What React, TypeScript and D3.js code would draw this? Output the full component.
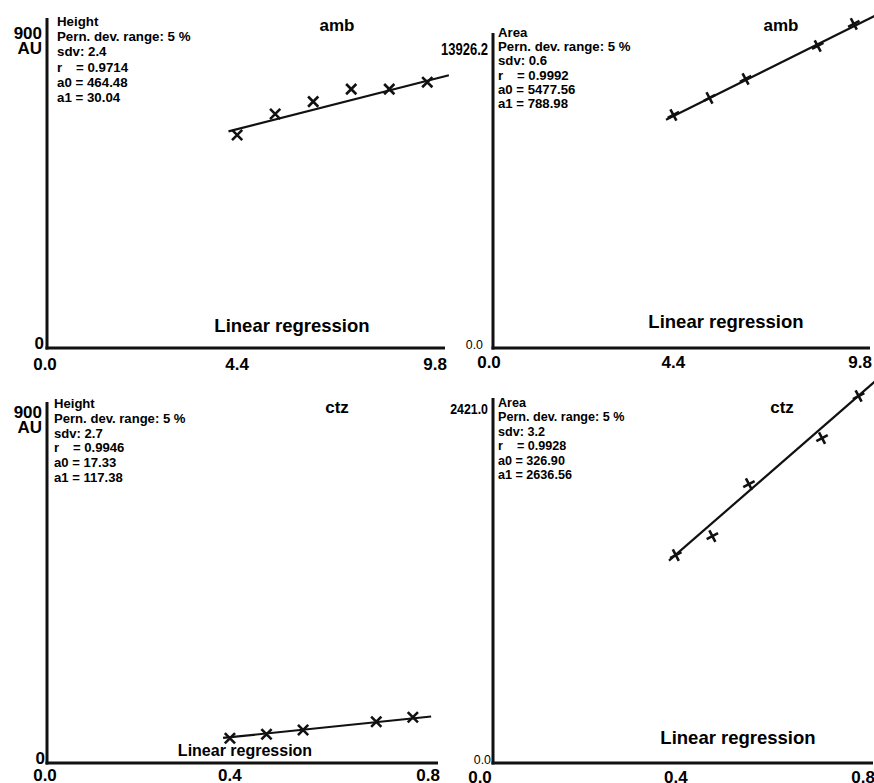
import React from "react";
import * as d3 from "d3";

// calibration levels and responses
const ambConc = [4.4, 5.28, 6.16, 7.04, 7.92, 8.8];
const ambHeight = [581, 638, 672, 706, 706, 725];
const ambAreaConc = [4.4, 5.28, 6.16, 7.92, 8.8];
const ambArea = [8996, 9653, 10386, 11660, 12510];
const ctzConc = [0.4, 0.48, 0.56, 0.72, 0.8];
const ctzHeight = [61.6, 71.5, 82.3, 103, 113.9];
const ctzArea = [1379, 1505, 1850, 2155, 2434];

// regression coefficients (a0, a1) and the x span of each fitted line
const ambHeightFit = [464.48, 30.04];
const ambAreaFit = [5477.56, 788.98];
const ctzHeightFit = [17.33, 117.38];
const ctzAreaFit = [326.9, 2636.56];
const ambFitSpan = [4.2, 9.3];
const ambAreaFitSpan = [4.22, 9.8];
const ctzFitSpan = [0.385, 0.84];
const ctzAreaFitSpan = [0.385, 0.86];

const ambTicks = [0, 4.4, 9.8];
const ambTickLabels = ["0.0", "4.4", "9.8"];
const ctzTicks = [0, 0.4, 0.8];
const ctzTickLabels = ["0.0", "0.4", "0.8"];

const ambHeightStats = ["Height", "Pern. dev. range: 5 %", "sdv: 2.4", "r|= 0.9714", "a0 = 464.48", "a1 = 30.04"];
const ambAreaStats = ["Area", "Pern. dev. range: 5 %", "sdv: 0.6", "r|= 0.9992", "a0 = 5477.56", "a1 = 788.98"];
const ctzHeightStats = ["Height", "Pern. dev. range: 5 %", "sdv: 2.7", "r|= 0.9946", "a0 = 17.33", "a1 = 117.38"];
const ctzAreaStats = ["Area", "Pern. dev. range: 5 %", "sdv: 3.2", "r|= 0.9928", "a0 = 326.90", "a1 = 2636.56"];

const BOLD = "'Liberation Sans', Arial, Helvetica, sans-serif";

type PanelProps = {
  xs: number[];
  ys: number[];
  fit: number[];
  fitSpan: number[];
  ticks: number[];
  tickLabels: string[];
  stats: string[];
  title: string;
  left: number;
  right: number;
  top: number;
  bottom: number;
  xMax: number;
  yMax: number;
  yLabel: string[];
  yLabelY: number;
  zeroLabel: string;
  zeroDx: number;
  narrowLabels: boolean;
  yLabelSize: number;
  titleX: number;
  titleY: number;
  statsX: number;
  statsY: number;
  statsStep: number;
  statsSize: number;
  regX: number;
  regY: number;
  regSize: number;
  tickY: number;
  firstTickShift: number;
  plusMarker: boolean;
};

// condensed look for the numeric y labels of the area plots
const narrowWidth = (t: string, size: number) => t.length * size * 0.42;

function Panel(p: PanelProps) {
  const x = d3.scaleLinear().domain([0, p.xMax]).range([p.left, p.right]);
  const y = d3.scaleLinear().domain([0, p.yMax]).range([p.bottom, p.top]);
  const fitLine = d3
    .line<number>()
    .x((d) => x(d))
    .y((d) => y(p.fit[0] + p.fit[1] * d));
  const marker = p.plusMarker
    ? d3.symbol().type(d3.symbolPlus).size(56)()
    : d3.symbol().type(d3.symbolTimes).size(70)();
  const zeroSize = p.narrowLabels ? 13 : 17;

  return (
    <g>
      {/* axes */}
      <line x1={p.left} x2={p.left} y1={p.top} y2={p.bottom + 1.5} stroke="#111" strokeWidth={3} />
      <line x1={p.left - 1.5} x2={p.right} y1={p.bottom} y2={p.bottom} stroke="#111" strokeWidth={3} />

      {/* y labels */}
      {p.yLabel.map((t, i) => (
        <text
          key={t}
          x={p.left - 5}
          y={p.yLabelY + i * 15}
          textAnchor="end"
          fontFamily={BOLD}
          fontWeight="bold"
          fontSize={p.yLabelSize}
          {...(p.narrowLabels
            ? { textLength: narrowWidth(t, p.yLabelSize), lengthAdjust: "spacingAndGlyphs" }
            : {})}
        >
          {t}
        </text>
      ))}
      <text
        x={p.left - 3 + p.zeroDx}
        y={p.bottom + 1}
        textAnchor="end"
        fontFamily={BOLD}
        fontWeight={p.narrowLabels ? "normal" : "bold"}
        fontSize={zeroSize}
        {...(p.narrowLabels
          ? { textLength: narrowWidth(p.zeroLabel, zeroSize) * 1.05, lengthAdjust: "spacingAndGlyphs" }
          : {})}
      >
        {p.zeroLabel}
      </text>

      {/* x tick labels: origin, first level, axis end */}
      {p.ticks.map((v, i) => {
        const last = i === p.ticks.length - 1;
        const px = last ? p.right + 2 : x(v) + (i === 0 ? p.firstTickShift : 0);
        return (
          <text
            key={v}
            x={px}
            y={p.tickY}
            textAnchor={last ? "end" : "middle"}
            fontFamily={BOLD}
            fontWeight="bold"
            fontSize={17}
          >
            {p.tickLabels[i]}
          </text>
        );
      })}

      {/* statistics block */}
      {p.stats.map((s, i) => {
        const yy = p.statsY + i * p.statsStep;
        if (s.includes("|")) {
          const [a, b] = s.split("|");
          return (
            <g key={s}>
              <text x={p.statsX} y={yy} fontFamily={BOLD} fontWeight="bold" fontSize={p.statsSize}>{a}</text>
              <text x={p.statsX + 19} y={yy} fontFamily={BOLD} fontWeight="bold" fontSize={p.statsSize}>{b}</text>
            </g>
          );
        }
        return (
          <text key={s} x={p.statsX} y={yy} fontFamily={BOLD} fontWeight="bold" fontSize={p.statsSize}>
            {s}
          </text>
        );
      })}

      <text x={p.titleX} y={p.titleY} textAnchor="middle" fontFamily={BOLD} fontWeight="bold" fontSize={17}>
        {p.title}
      </text>
      <text x={p.regX} y={p.regY} textAnchor="middle" fontFamily={BOLD} fontWeight="bold" fontSize={p.regSize}>
        Linear regression
      </text>

      {/* fitted line and calibration points */}
      <path d={fitLine(p.fitSpan) || ""} fill="none" stroke="#111" strokeWidth={2.2} />
      {p.xs.map((v, i) => (
        <path
          key={i}
          d={marker || ""}
          transform={`translate(${x(v)},${y(p.ys[i])})${p.plusMarker ? " rotate(-28)" : ""}`}
          fill="none"
          stroke="#111"
          strokeWidth={2.6}
        />
      ))}
    </g>
  );
}

export default function App() {
  return (
    <div style={{ position: "absolute", left: 0, top: 0 }}>
      <svg width={874} height={783} style={{ display: "block", background: "#fff" }}>
        <Panel
          xs={ambConc} ys={ambHeight} fit={ambHeightFit} fitSpan={ambFitSpan}
          ticks={ambTicks} tickLabels={ambTickLabels} stats={ambHeightStats} title="amb"
          left={47} right={445} top={18} bottom={348} xMax={9.21} yMax={900}
          yLabel={["900", "AU"]} yLabelY={39} zeroLabel="0" zeroDx={0} narrowLabels={false} yLabelSize={17}
          titleX={337} titleY={31} statsX={57} statsY={26} statsStep={15.2} statsSize={13.3}
          regX={292} regY={332} regSize={18.5} tickY={370} firstTickShift={-2} plusMarker={false}
        />
        <Panel
          xs={ambAreaConc} ys={ambArea} fit={ambAreaFit} fitSpan={ambAreaFitSpan}
          ticks={ambTicks} tickLabels={ambTickLabels} stats={ambAreaStats} title="amb"
          left={493} right={870} top={33} bottom={348} xMax={9.195} yMax={12160}
          yLabel={["13926.2"]} yLabelY={55} zeroLabel="0.0" zeroDx={-7} narrowLabels={true} yLabelSize={16}
          titleX={781} titleY={31} statsX={498} statsY={37} statsStep={14.2} statsSize={13.2}
          regX={726} regY={328} regSize={18.5} tickY={368} firstTickShift={-4} plusMarker={true}
        />
        <Panel
          xs={ctzConc} ys={ctzHeight} fit={ctzHeightFit} fitSpan={ctzFitSpan}
          ticks={ctzTicks} tickLabels={ctzTickLabels} stats={ctzHeightStats} title="ctz"
          left={47} right={438} top={402} bottom={763} xMax={0.855} yMax={900}
          yLabel={["900", "AU"]} yLabelY={418} zeroLabel="0" zeroDx={1} narrowLabels={false} yLabelSize={17}
          titleX={337} titleY={413} statsX={54} statsY={408} statsStep={14.8} statsSize={13.1}
          regX={245} regY={756} regSize={16} tickY={781} firstTickShift={-2} plusMarker={false}
        />
        <Panel
          xs={ctzConc} ys={ctzArea} fit={ctzAreaFit} fitSpan={ctzAreaFitSpan}
          ticks={ctzTicks} tickLabels={ctzTickLabels} stats={ctzAreaStats} title="ctz"
          left={493} right={873} top={398} bottom={763} xMax={0.8315} yMax={2421}
          yLabel={["2421.0"]} yLabelY={414} zeroLabel="0.0" zeroDx={1} narrowLabels={true} yLabelSize={15}
          titleX={782} titleY={413} statsX={498} statsY={407} statsStep={14.4} statsSize={12.6}
          regX={738} regY={744} regSize={18.5} tickY={783} firstTickShift={-13} plusMarker={true}
        />
      </svg>
    </div>
  );
}
